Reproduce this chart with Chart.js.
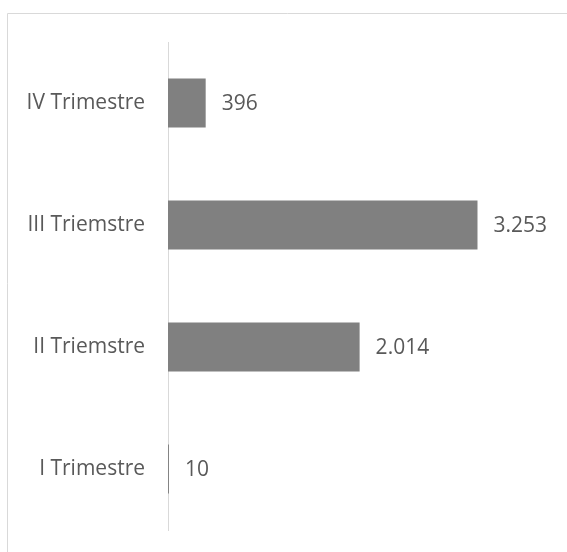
<!DOCTYPE html>
<html>
<head>
<meta charset="utf-8">
<script src="https://cdn.jsdelivr.net/npm/chart.js@4/dist/chart.umd.min.js"></script>
<style>
  html, body { margin: 0; padding: 0; background: #fff; }
  #wrap { width: 567px; height: 552px; position: relative; }
</style>
</head>
<body>
<div id="wrap"><canvas id="myChart" width="567" height="552"></canvas></div>
<script>
// Data (top to bottom)
const categories = ['IV Trimestre', 'III Triemstre', 'II Triemstre', 'I Trimestre'];
const values = [396, 3253, 2014, 10];
const axisMax = 3500;

const textColor = '#595959';
const fontFamily = "'Open Sans', sans-serif";

// dot as thousands separator, like the original
function fmt(v) {
  return String(v).replace(/\B(?=(\d{3})+(?!\d))/g, '.');
}

// light grey frame of the chart object (only top and left edges are visible)
const framePlugin = {
  id: 'frame',
  beforeDraw(chart) {
    const ctx = chart.ctx;
    ctx.save();
    ctx.strokeStyle = '#d9d9d9';
    ctx.lineWidth = 1;
    ctx.beginPath();
    ctx.moveTo(7.5, chart.height + 5);
    ctx.lineTo(7.5, 13.5);
    ctx.lineTo(chart.width + 5, 13.5);
    ctx.stroke();
    ctx.restore();
  }
};

// value labels at the end of each bar
const valueLabels = {
  id: 'valueLabels',
  afterDatasetsDraw(chart) {
    const ctx = chart.ctx;
    const meta = chart.getDatasetMeta(0);
    ctx.save();
    ctx.fillStyle = textColor;
    ctx.font = "21px " + fontFamily;
    ctx.textAlign = 'left';
    ctx.textBaseline = 'middle';
    meta.data.forEach((bar, i) => {
      ctx.fillText(fmt(values[i]), bar.x + 16, bar.y + 1);
    });
    ctx.restore();
  }
};

const ctx = document.getElementById('myChart').getContext('2d');
new Chart(ctx, {
  type: 'bar',
  data: {
    labels: categories,
    datasets: [{
      data: values,
      backgroundColor: '#808080',
      borderWidth: 0,
      barPercentage: 0.4,
      categoryPercentage: 1
    }]
  },
  options: {
    indexAxis: 'y',
    responsive: false,
    animation: false,
    layout: { padding: { top: 42, bottom: 22, left: 0, right: 66 } },
    plugins: {
      legend: { display: false },
      tooltip: { enabled: false }
    },
    scales: {
      x: {
        display: false,
        min: 0,
        max: axisMax
      },
      y: {
        grid: { display: false, drawTicks: false },
        border: { display: true, color: '#d9d9d9', width: 1 },
        ticks: {
          color: textColor,
          padding: 23,
          font: { family: fontFamily, size: 21 }
        },
        afterFit(scale) {
          scale.width = 168;
          // don't let the label padding shrink the plot area vertically
          scale.paddingTop = 0;
          scale.paddingBottom = 0;
        }
      }
    }
  },
  plugins: [framePlugin, valueLabels]
});
</script>
</body>
</html>
